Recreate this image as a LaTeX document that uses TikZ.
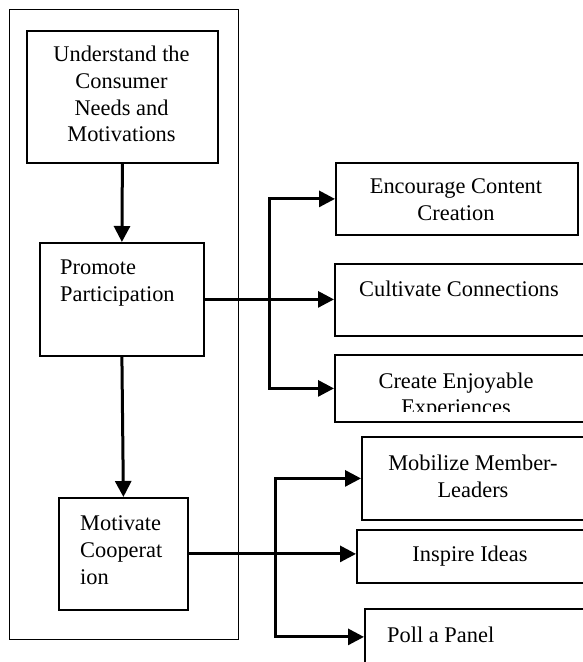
\documentclass[tikz,border=0pt]{standalone}
\usepackage{fontspec}
\setmainfont{Liberation Serif}
\usetikzlibrary{arrows.meta}
\begin{document}
\begin{tikzpicture}[x=1pt,y=-1pt,
  box/.style={draw, line width=1.8pt, inner sep=0pt, anchor=north west,
              font=\fontsize{22.4}{26.7}\selectfont, align=center},
  frame/.style={draw, line width=1.4pt, inner sep=0pt, anchor=north west},
  txt/.style={font=\fontsize{22.4}{26.7}\selectfont, inner sep=0pt},
  conn/.style={line width=3pt, -{Triangle[length=16pt,width=16pt]}},
  ]
\useasboundingbox (0,0) rectangle (583,662);
\clip (0,0) rectangle (583,662);

% grouping frame around the main chain
\node[frame, minimum width=229pt, minimum height=630pt] (grp) at (9,9) {};

% main chain
\node[box, minimum width=191pt, minimum height=132pt] (und) at (26,30) {};
\node[txt, align=center] (undtxt) at (121.5,94) {Understand the\\Consumer\\Needs and\\Motivations};
\node[box, minimum width=164pt, minimum height=113pt] (prom) at (39,242) {};
\node[txt, anchor=west, align=left] (promtxt) at (60,283) {Promote\\Participation};
\node[box, minimum width=129pt, minimum height=112pt] (mot) at (58,497) {};
\node[txt, anchor=west, align=left] (mottxt) at (80,550) {Motivate\\Cooperat\\ion};

% participation branches
\node[box, minimum width=242pt, minimum height=72pt] (enc) at (335,162) {};
\node[txt, align=center] (enctxt) at (456,200) {Encourage Content\\Creation};
\node[box, minimum width=250pt, minimum height=72pt] (cul) at (334,263) {};
\node[txt] (cultxt) at (459,289) {Cultivate Connections};
\node[box, minimum width=250pt, minimum height=67pt] (cre) at (334,354) {};
\begin{scope}
  \clip (334,354) rectangle (590,411.5);
  \node[txt, align=center] (cretxt) at (456,396) {Create Enjoyable\\Experiences};
\end{scope}

% cooperation branches
\node[box, minimum width=224pt, minimum height=83pt] (mob) at (361,436) {};
\node[txt, align=center] (mobtxt) at (473,476) {Mobilize Member-\\Leaders};
\node[box, minimum width=228pt, minimum height=53pt] (ins) at (356,529) {};
\node[txt] (instxt) at (470,556) {Inspire Ideas};
\node[box, minimum width=222pt, minimum height=56pt] (poll) at (364,608) {};
\node[txt, anchor=west] (polltxt) at (387,635) {Poll a Panel};

% connectors
\draw[conn] (und.south) -- (prom.north);
\draw[conn] (prom.south) -- (mot.north);

\coordinate (b1) at (269,298.5);
\draw[conn] (prom.east) -- (prom.east -| cul.west);
\draw[conn] (b1) |- (enc.west);
\draw[conn] (b1) |- (cre.west);

\coordinate (b2) at (275,553);
\draw[conn] (mot.east) -- (mot.east -| ins.west);
\draw[conn] (b2) |- (mob.west);
\draw[conn] (b2) |- (poll.west);
\end{tikzpicture}
\end{document}
